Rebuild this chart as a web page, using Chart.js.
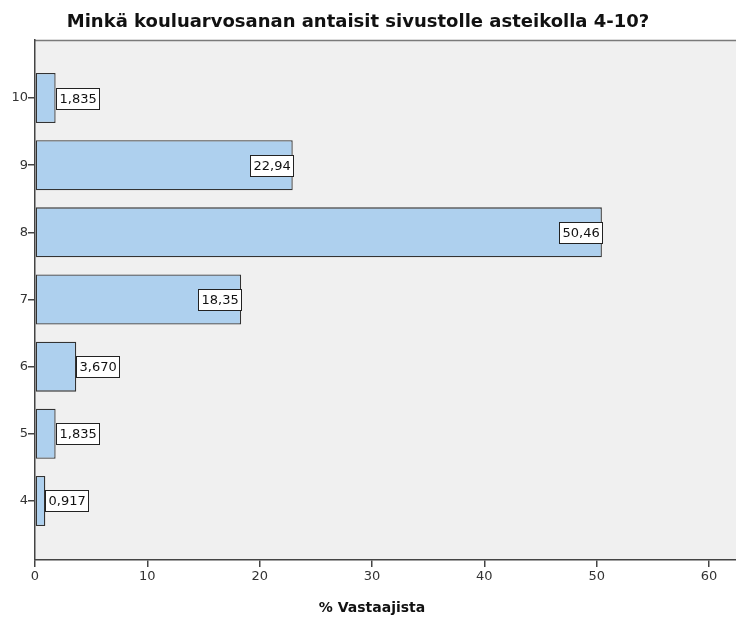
<!DOCTYPE html>
<html>
<head>
<meta charset="utf-8">
<script src="https://cdn.jsdelivr.net/npm/chart.js@4"></script>
<style>
html,body{margin:0;padding:0;background:#fff;}
#wrap{width:736px;height:617px;position:relative;}
</style>
</head>
<body>
<div id="wrap"><canvas id="c" width="736" height="617"></canvas></div>
<script>
const grades = [10, 9, 8, 7, 6, 5, 4];
const percents = [1.835, 22.94, 50.46, 18.35, 3.670, 1.835, 0.917];
const valueLabels = ['1,835', '22,94', '50,46', '18,35', '3,670', '1,835', '0,917'];
const xTicks = [0, 10, 20, 30, 40, 50, 60];
const titleText = 'Minkä kouluarvosanan antaisit sivustolle asteikolla 4-10?';
const xTitleText = '% Vastaajista';

const FONT = '"DejaVu Sans", sans-serif';

const bgPlugin = {
  id: 'bg',
  beforeDraw(chart) {
    const {ctx, chartArea: a} = chart;
    ctx.save();
    ctx.fillStyle = '#f0f0f0';
    ctx.fillRect(a.left, a.top, a.right - a.left, a.bottom - a.top);
    ctx.strokeStyle = '#7a7a7a';
    ctx.lineWidth = 1.5;
    ctx.beginPath();
    ctx.moveTo(a.left, a.top + 0.5);
    ctx.lineTo(a.right, a.top + 0.5);
    ctx.stroke();
    ctx.restore();
  },
  afterDraw(chart) {
    const {ctx} = chart;
    ctx.save();
    ctx.fillStyle = '#111';
    ctx.textAlign = 'center';
    ctx.textBaseline = 'alphabetic';
    ctx.font = 'bold 18px ' + FONT;
    ctx.fillText(titleText, 358, 27);
    ctx.font = 'bold 14px ' + FONT;
    ctx.fillText(xTitleText, 372, 612);
    ctx.restore();
  }
};

const labelPlugin = {
  id: 'vlabels',
  afterDatasetsDraw(chart) {
    const {ctx} = chart;
    const meta = chart.getDatasetMeta(0);
    ctx.save();
    ctx.font = '13px ' + FONT;
    ctx.textBaseline = 'middle';
    meta.data.forEach((bar, i) => {
      const txt = valueLabels[i];
      const tw = ctx.measureText(txt).width;
      const bw = Math.round(tw + 6);
      const bh = 21;
      const barW = bar.x - bar.base;
      let x0;
      if (barW > bw + 4) x0 = bar.x - bw; else x0 = bar.x;
      x0 = Math.round(x0);
      const y0 = Math.round(bar.y - bh / 2);
      ctx.fillStyle = '#fff';
      ctx.fillRect(x0, y0, bw, bh);
      ctx.strokeStyle = '#222';
      ctx.lineWidth = 1;
      ctx.strokeRect(x0 + 0.5, y0 + 0.5, bw, bh);
      ctx.fillStyle = '#111';
      ctx.textAlign = 'left';
      ctx.fillText(txt, x0 + 3.5, y0 + bh / 2 + 1);
    });
    ctx.restore();
  }
};

new Chart(document.getElementById('c'), {
  type: 'bar',
  data: {
    datasets: [{
      data: grades.map((g, i) => ({x: percents[i], y: g})),
      backgroundColor: '#aed0ee',
      borderColor: '#333333',
      borderWidth: 1.3,
      borderSkipped: false,
      categoryPercentage: 1,
      barPercentage: 0.745
    }]
  },
  options: {
    indexAxis: 'y',
    responsive: false,
    animation: false,
    devicePixelRatio: 1,
    layout: {padding: {top: 40, right: 0, left: 0, bottom: 0}},
    plugins: {legend: {display: false}, tooltip: {enabled: false}, title: {display: false}},
    scales: {
      x: {
        type: 'linear',
        min: 0,
        max: 62.4,
        afterBuildTicks(scale) { scale.ticks = xTicks.map(v => ({value: v})); },
        afterFit(scale) { scale.height = 57; },
        border: {display: true, color: '#444', width: 1.5},
        grid: {display: true, drawOnChartArea: false, drawTicks: true, tickLength: 7, color: '#444', lineWidth: 1.5},
        ticks: {font: {family: FONT, size: 13}, color: '#333', padding: 2, maxRotation: 0}
      },
      y: {
        type: 'linear',
        offset: false,
        min: 3.12,
        max: 10.865,
        afterBuildTicks(scale) { scale.ticks = grades.map(v => ({value: v})); },
        afterFit(scale) { scale.width = 35; },
        border: {display: true, color: '#444', width: 1.5},
        grid: {display: true, offset: false, drawOnChartArea: false, drawTicks: true, tickLength: 7, color: '#444', lineWidth: 1.5},
        ticks: {font: {family: FONT, size: 13}, color: '#333', padding: 0}
      }
    }
  },
  plugins: [bgPlugin, labelPlugin]
});
</script>
</body>
</html>
